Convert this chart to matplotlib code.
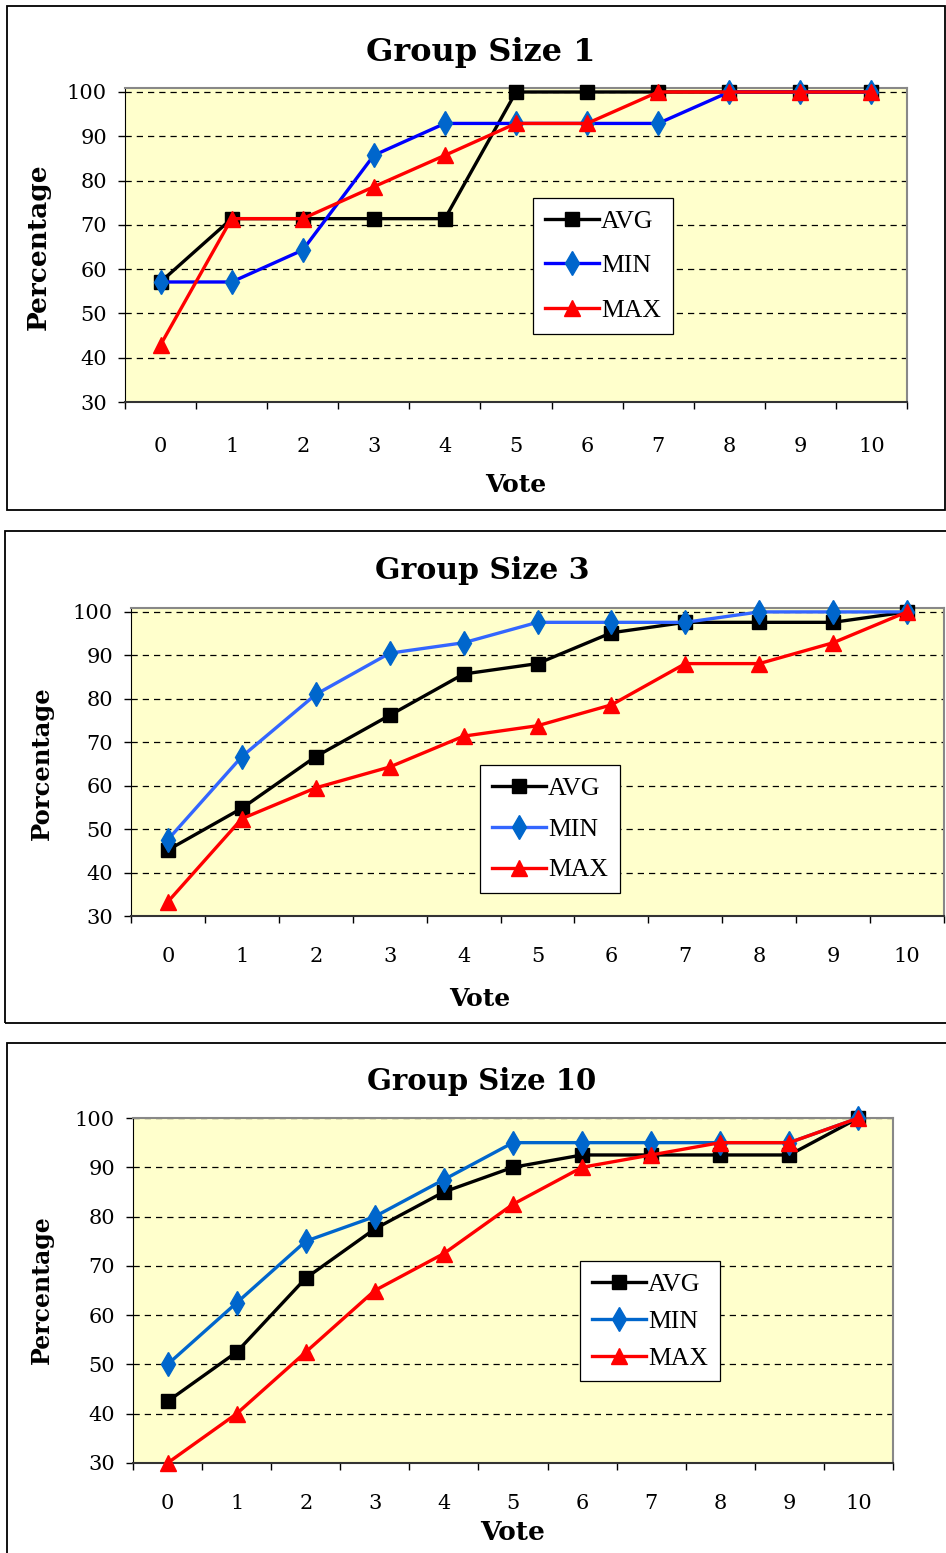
import matplotlib
matplotlib.use('Agg')
import matplotlib.pyplot as plt
from matplotlib.patches import Rectangle
from matplotlib.ticker import FixedLocator, NullFormatter

W, H = 946, 1553

votes = list(range(11))
y_ticks = [30, 40, 50, 60, 70, 80, 90, 100]

# Group size 1
g1_avg = [57.1, 71.4, 71.4, 71.4, 71.4, 100, 100, 100, 100, 100, 100]
g1_min = [57.1, 57.1, 64.3, 85.7, 92.9, 92.9, 92.9, 92.9, 100, 100, 100]
g1_max = [42.9, 71.4, 71.4, 78.6, 85.7, 92.9, 92.9, 100, 100, 100, 100]

# Group size 3
g3_avg = [45.2, 54.8, 66.7, 76.2, 85.7, 88.1, 95.2, 97.6, 97.6, 97.6, 100]
g3_min = [47.6, 66.7, 81.0, 90.5, 92.9, 97.6, 97.6, 97.6, 100, 100, 100]
g3_max = [33.3, 52.4, 59.5, 64.3, 71.4, 73.8, 78.6, 88.1, 88.1, 92.9, 100]

# Group size 10
g10_avg = [42.5, 52.5, 67.5, 77.5, 85.0, 90.0, 92.5, 92.5, 92.5, 92.5, 100]
g10_min = [50.0, 62.5, 75.0, 80.0, 87.5, 95.0, 95.0, 95.0, 95.0, 95.0, 100]
g10_max = [30.0, 40.0, 52.5, 65.0, 72.5, 82.5, 90.0, 92.5, 95.0, 95.0, 100]

serif = 'DejaVu Serif'
legend_font = 'Liberation Serif'


def fx(x):
    return x / W


def fy(y):
    return 1 - y / H


fig = plt.figure(figsize=(W / 100, H / 100), dpi=100)

panels = [
    dict(title='Group Size 1', ylabel='Percentage', data=(g1_avg, g1_min, g1_max),
         min_line='#0000FF', ax=(125, 88, 907, 402), ymax=100.9,
         box=(7, 6, 945, 510), title_xy=(481, 52), ylab_xy=(38, 247), xlab_xy=(516, 485),
         fs=(23, 19, 18), leg=(533, 198), xpad=25, rowsp=0.85),
    dict(title='Group Size 3', ylabel='Porcentage', data=(g3_avg, g3_min, g3_max),
         min_line='#3366FF', ax=(131, 608, 944, 916), ymax=100.9,
         box=(5, 531, 960, 1023), title_xy=(482, 571), ylab_xy=(42, 763), xlab_xy=(480, 999),
         fs=(21.5, 17.5, 18), leg=(480, 765), xpad=22, rowsp=0.7),
    dict(title='Group Size 10', ylabel='Percentage', data=(g10_avg, g10_min, g10_max),
         min_line='#0066CC', ax=(133, 1118, 893, 1463), ymax=100,
         box=(7, 1043, 960, 1570), title_xy=(482, 1081), ylab_xy=(42, 1290), xlab_xy=(513, 1533),
         fs=(21, 17, 19), leg=(580, 1261), xpad=22, rowsp=0.55),
]

for p in panels:
    x0, y0, x1, y1 = p['box']
    fig.patches.append(Rectangle((fx(x0), fy(y1)), fx(x1 - x0), (y1 - y0) / H,
                                 transform=fig.transFigure, fill=False,
                                 edgecolor='black', linewidth=1.3, zorder=0))

    l, t, r, b = p['ax']
    ax = fig.add_axes([fx(l), fy(b), fx(r - l), (b - t) / H])
    ax.set_facecolor('#FFFFCC')

    avg, mn, mx = p['data']
    ax.plot(votes, avg, color='black', lw=2.4, marker='s', ms=10.5,
            mfc='black', mec='black', label='AVG', clip_on=False, zorder=3)
    ax.plot(votes, mn, color=p['min_line'], lw=2.4, marker='d', ms=12,
            mfc='#0066CC', mec='#0066CC', label='MIN', clip_on=False, zorder=4)
    ax.plot(votes, mx, color='#FF0000', lw=2.4, marker='^', ms=11.5,
            mfc='#FF0000', mec='#FF0000', label='MAX', clip_on=False, zorder=5)

    ax.set_xlim(-0.5, 10.5)
    ax.set_ylim(30, p['ymax'])
    ax.set_yticks(y_ticks)
    ax.set_yticklabels([str(v) for v in y_ticks], fontfamily=serif, fontsize=15)
    ax.yaxis.grid(True, linestyle=(0, (5, 4)), color='black', linewidth=0.9)
    ax.set_axisbelow(True)

    ax.xaxis.set_major_locator(FixedLocator([i - 0.5 for i in range(12)]))
    ax.xaxis.set_major_formatter(NullFormatter())
    ax.xaxis.set_minor_locator(FixedLocator(votes))
    ax.set_xticklabels([str(v) for v in votes], minor=True, fontfamily=serif, fontsize=15)
    ax.tick_params(axis='x', which='minor', length=0, pad=p['xpad'])
    ax.tick_params(axis='x', which='major', length=5, direction='out', width=1)
    ax.tick_params(axis='y', length=5, direction='out', width=1, pad=8)

    ax.spines['left'].set_color('black')
    ax.spines['bottom'].set_color('#333333')
    ax.spines['bottom'].set_linewidth(1.5)
    ax.spines['top'].set_color('#888888')
    ax.spines['right'].set_color('#888888')
    ax.spines['top'].set_linewidth(1.5)
    ax.spines['right'].set_linewidth(1.5)

    fs_t, fs_y, fs_x = p['fs']
    tx, ty = p['title_xy']
    fig.text(fx(tx), fy(ty), p['title'], ha='center', va='center',
             fontfamily=serif, fontweight='bold', fontsize=fs_t)
    yx, yy = p['ylab_xy']
    fig.text(fx(yx), fy(yy), p['ylabel'], ha='center', va='center', rotation=90,
             fontfamily=serif, fontweight='bold', fontsize=fs_y)
    vx, vy = p['xlab_xy']
    fig.text(fx(vx), fy(vy), 'Vote', ha='center', va='center',
             fontfamily=serif, fontweight='bold', fontsize=fs_x)

    lx, ly = p['leg']
    leg = ax.legend(loc='upper left', bbox_to_anchor=(fx(lx), fy(ly)),
                    bbox_transform=fig.transFigure, prop={'family': legend_font, 'size': 18.5},
                    frameon=True, fancybox=False, edgecolor='black', framealpha=1,
                    handlelength=2.1, handletextpad=0.1, labelspacing=p['rowsp'],
                    borderpad=0.45, borderaxespad=0)
    leg.get_frame().set_linewidth(0.9)

fig.savefig('out.png', dpi=100)
